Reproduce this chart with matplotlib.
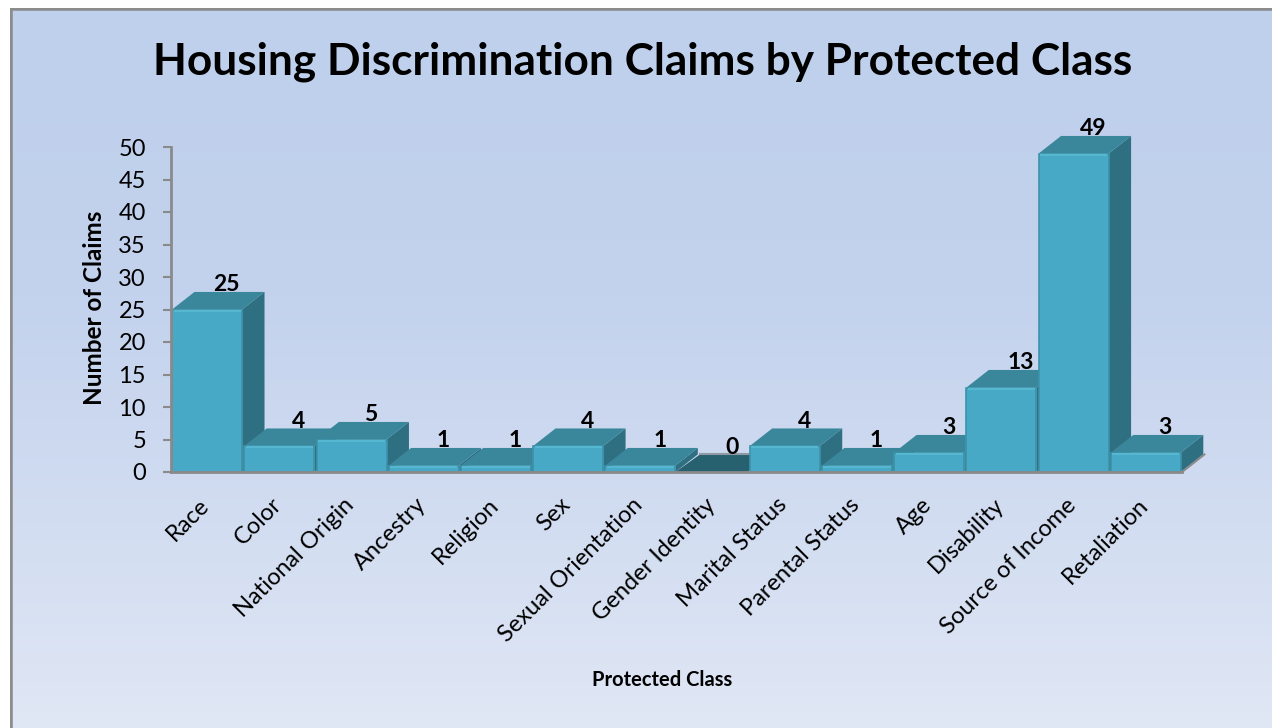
import numpy as np
import matplotlib
matplotlib.use("Agg")
from matplotlib import pyplot as plt
from matplotlib.colors import LinearSegmentedColormap
from matplotlib.transforms import ScaledTranslation

categories = ["Race", "Color", "National Origin", "Ancestry", "Religion", "Sex",
              "Sexual Orientation", "Gender Identity", "Marital Status",
              "Parental Status", "Age", "Disability", "Source of Income",
              "Retaliation"]
claims = [25, 4, 5, 1, 1, 4, 1, 0, 4, 1, 3, 13, 49, 3]
y_ticks = list(range(0, 55, 5))

plt.rcParams['font.family'] = ['Lato', 'DejaVu Sans']

W, H = 1272, 728
fig = plt.figure(figsize=(W / 100, H / 100), dpi=100, facecolor="white")

# background gradient, white strip on the left and top
bg = fig.add_axes([10 / W, 0, 1 - 10 / W, 1 - 8 / H], zorder=0)
cmap = LinearSegmentedColormap.from_list(
    "bg", [(0, "#bed0ec"), (0.4, "#c3d2ed"), (1, "#e0e7f5")])
bg.imshow(np.linspace(0, 1, 256).reshape(-1, 1), aspect="auto", cmap=cmap, extent=[0, 1, 0, 1])
bg.plot([0, 0], [0, 1], color="#8c8c8c", lw=4)
bg.plot([0, 1], [1, 1], color="#8c8c8c", lw=4)
bg.set_xlim(0, 1)
bg.set_ylim(0, 1)
bg.axis("off")

# plot area, 0 at y=472 and 50 at y=147
ax = fig.add_axes([171 / W, 1 - 472 / H, 1011 / W, 325 / H], zorder=1)
ax.patch.set_alpha(0)
ax.set_xlim(0, len(categories))
ax.set_ylim(0, 50)

dx = 0.31   # depth of the fake 3d, in category widths
dy = 2.7    # depth in claims
gap = 0.015

for i, v in enumerate(claims):
    l, r = i + gap, i + 1 - gap
    z = 2 + i
    if v == 0:
        # empty bar, only a dark floor shows
        ax.fill([l - 2 * gap, l + dx, r + dx, r], [0, dy, dy, 0], color="#27606f", lw=0, zorder=z)
        ax.plot([l + dx, r + dx], [dy, dy], color="#8f9aa5", lw=1.5, zorder=z)
    else:
        ax.fill([r, r + dx, r + dx, r], [0, dy, v + dy, v], color="#2f6f82", lw=0, zorder=z, clip_on=False)
        ax.fill([l, l + dx, r + dx, r], [v, v + dy, v + dy, v], color="#3a879c", lw=0, zorder=z, clip_on=False)
        ax.bar(i + 0.5, v, width=1 - 2 * gap, color="#47a9c5", ec="#3d93aa", lw=1.2, zorder=z)
        ax.plot([l + 0.02, r - 0.02], [v - 0.2, v - 0.2], color="#56b7d0", lw=1.5,
                zorder=z, solid_capstyle="butt")
    ax.text(i + 0.5 + 0.27, v + dy - 0.5, str(v), ha="center", va="bottom",
            fontsize=16.5, fontweight="bold", color="black", zorder=30, clip_on=False)

ax.plot([len(categories), len(categories) + dx], [0, dy], color="#8a8a8a", lw=1.5,
        zorder=25, clip_on=False)

for s in ["top", "right"]:
    ax.spines[s].set_visible(False)
for s in ["left", "bottom"]:
    ax.spines[s].set_color("#8a8a8a")
    ax.spines[s].set_linewidth(2)
    ax.spines[s].set_zorder(25)

ax.set_yticks(y_ticks)
ax.tick_params(axis="y", length=6, width=1.5, color="#8a8a8a", labelsize=17, pad=12)
ax.set_xticks(np.arange(len(categories)) + 0.5)
ax.set_xticklabels(categories, rotation=45, ha="right", rotation_mode="anchor", fontsize=17)
ax.tick_params(axis="x", length=0, pad=16)
shift = ScaledTranslation(-6 / 72, 0, fig.dpi_scale_trans)
for lab in ax.get_xticklabels():
    lab.set_transform(lab.get_transform() + shift)

fig.text(643 / W, 1 - 62 / H, "Housing Discrimination Claims by Protected Class",
         ha="center", va="center", fontsize=31.8, fontweight="bold")
fig.text(95 / W, 1 - 308 / H, "Number of Claims", rotation=90, ha="center", va="center",
         fontsize=17.5, fontweight="bold")
fig.text(662 / W, 1 - 680 / H, "Protected Class", ha="center", va="center",
         fontsize=14.5, fontweight="bold")

fig.savefig("out.png", dpi=100)
